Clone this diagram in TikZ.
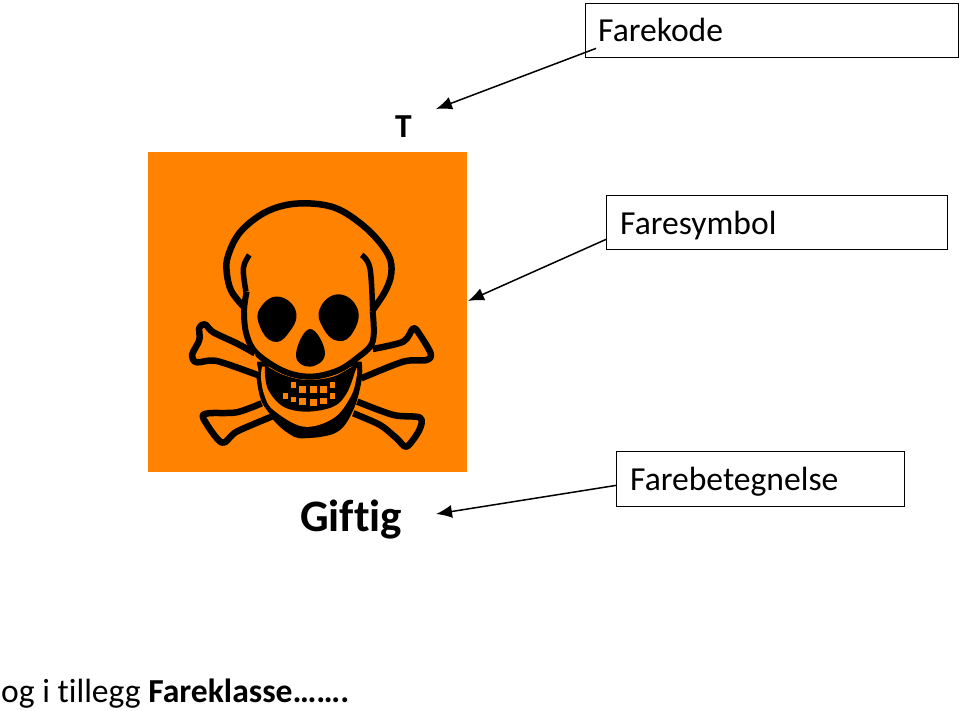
\documentclass[tikz,border=0pt]{standalone}
\usepackage{fontspec}
\setmainfont[Ligatures=NoCommon]{Carlito}
\usetikzlibrary{arrows.meta}
\definecolor{fareorange}{RGB}{255,130,0}
\tikzstyle{farebox}=[draw,line width=1.4pt,anchor=north west,inner sep=0pt]
\tikzstyle{boxtext}=[font=\fontsize{33.6}{33.6}\selectfont,anchor=base west,inner sep=0pt]
\tikzstyle{boldtext}=[font=\fontsize{33.6}{33.6}\selectfont\bfseries,anchor=base west,inner sep=0pt]
\tikzstyle{pil}=[draw,line width=1.5pt,-{Latex[length=16pt,width=13pt]}]
\tikzstyle{bone}=[draw=black,line width=6.5pt,fill=fareorange,line join=round]
\begin{document}
\begin{tikzpicture}[x=1pt,y=-1pt]
\useasboundingbox (0,0) rectangle (960,711);

\node[farebox,minimum width=373pt,minimum height=54pt] at (585,3) (farekode) {};
\node[farebox,minimum width=341pt,minimum height=54pt] at (606,195) (faresymbol) {};
\node[farebox,minimum width=288pt,minimum height=55pt] at (616,451) (farebetegnelse) {};
\node[boxtext] at (598,42) (farekodetxt) {Farekode};
\node[boxtext] at (620,234) (faresymboltxt) {Faresymbol};
\node[boxtext] at (630,490) (farebetegnelsetxt) {Farebetegnelse};

\node[boldtext] at (395,138) (t) {T};
\node[boldtext,font=\fontsize{45}{45}\selectfont\bfseries] at (300,531) (giftig) {Giftig};
\node[boxtext] at (1,702) (tillegg) {og i tillegg \textbf{Fareklasse…….}};

\coordinate (tend) at (436,109);
\coordinate (symend) at (468,301);
\coordinate (giftend) at (436,514);

\draw[pil] ([shift={(11,-10)}]farekode.south west) -- (tend);
\draw[pil] ([shift={(0,-11)}]faresymbol.south west) -- (symend);
\draw[pil] ([shift={(0,-22)}]farebetegnelse.south west) -- (giftend);

\fill[fareorange] (148,152) rectangle (467,472);

% skull, in the pixels of a 3x crop
\begin{scope}[shift={(140,145)},x=0.3333pt,y=-0.3333pt]
% jaw
\fill plot[smooth,tension=.6] coordinates {(352,650) (350,700) (365,770) (400,825) (445,865) (490,880) (590,862) (640,795) (665,705) (665,650)} -- cycle;
\fill[fareorange] plot[smooth,tension=.6] coordinates {(366,665) (363,700) (373,750) (400,795) (490,845) (580,820) (632,755) (650,695) (650,665)} -- cycle;
\fill plot[smooth,tension=.6] coordinates {(375,660) (430,690) (500,705) (580,695) (648,660) (645,680) (620,745) (580,785) (500,800) (430,785) (385,735) (375,685)} -- cycle;
% cranium
\draw[line width=6.5pt,fill=fareorange] plot[smooth,tension=.6] coordinates {(320,495) (275,440) (260,380) (265,330) (300,262) (370,205) (450,178) (540,178) (610,200) (690,260) (745,330) (754,385) (735,440) (695,500)};
\fill[fareorange] plot[smooth,tension=.6] coordinates {(320,440) (310,500) (320,570) (350,625) (430,680) (510,695) (590,680) (650,640) (695,590) (695,500) (685,400) (600,250) (400,250)} -- cycle;
\draw[line width=6pt] plot[smooth,tension=.6] coordinates {(320,440) (312,500) (320,570) (350,625) (430,678) (510,695) (590,678) (650,640) (698,590) (698,500)};
\draw[line width=5.5pt] plot[smooth,tension=.6] coordinates {(328,330) (310,370) (318,440)};
\draw[line width=5.5pt] plot[smooth,tension=.6] coordinates {(665,330) (690,370) (698,500)};
% bones
\draw[bone] plot[smooth,tension=.5] coordinates {(345,625) (290,595) (220,562) (195,538) (178,548) (178,585) (156,630) (170,652) (230,648) (358,692)};
\draw[bone] plot[smooth,tension=.5] coordinates {(698,612) (790,590) (820,550) (840,570) (872,625) (860,645) (790,650) (664,700)};
\draw[bone] plot[smooth,tension=.5] coordinates {(365,775) (290,802) (205,805) (190,820) (245,893) (290,860) (395,815)};
\draw[bone] plot[smooth,tension=.5] coordinates {(652,770) (760,810) (840,818) (838,855) (800,905) (770,880) (720,840) (640,805)};
% eyes and nose
\fill plot[smooth cycle,tension=.8] coordinates {(360,490) (415,455) (468,500) (445,565) (400,590) (360,545)};
\fill plot[smooth cycle,tension=.8] coordinates {(540,490) (595,448) (652,490) (640,560) (595,588) (550,550)};
\fill plot[smooth cycle,tension=.8] coordinates {(468,630) (510,552) (555,625) (510,665)};
% teeth
\foreach \x/\y in {487/733,520/733,550/733,487/770,520/772,551/768}
  \fill[fareorange] (\x-10,\y-10) rectangle (\x+10,\y+10);
\foreach \x/\y in {460/720,577/720,437/753,460/763,577/753}
  \fill[fareorange] (\x-7,\y-8) rectangle (\x+7,\y+8);
\end{scope}

\end{tikzpicture}
\end{document}
